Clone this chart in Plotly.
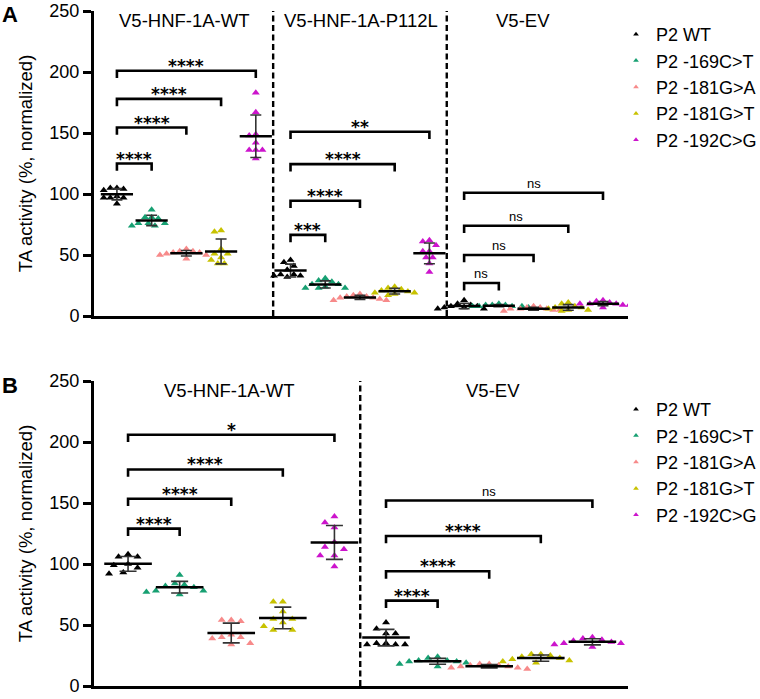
import plotly.graph_objects as go
import numpy as np

FONT = "Arial, 'Liberation Sans', sans-serif"
STAR_FONT = "'DejaVu Sans', sans-serif"

# ---------------- data ----------------
variants = ["P2 WT", "P2 -169C>T", "P2 -181G>A", "P2 -181G>T", "P2 -192C>G"]
colors = ["#000000", "#17A072", "#F78A8A", "#C8C200", "#CC14CC"]

a_groups = ["V5-HNF-1A-WT", "V5-HNF-1A-P112L", "V5-EV"]
a_wt = [[105, 103, 105, 104, 97, 97, 98, 97, 92],
        [87, 81, 81, 80, 76, 76, 76, 74, 74],
        [55, 53, 53, 52, 52, 51, 50, 50, 47],
        [70, 69, 55, 51, 51, 48, 46, 43, 43],
        [183, 167, 149, 148, 142, 136, 136, 136, 129]]
a_p112l = [[46, 44, 41, 38, 34, 34, 33, 33, 32],
           [31, 29, 28, 26, 26, 24, 23, 23, 23],
           [18, 17, 16, 16, 15, 15, 14, 13, 13],
           [24, 23, 22, 21, 20, 19, 19, 18, 17],
           [62, 61, 58, 53, 53, 48, 48, 43, 36]]
a_ev = [[13, 10, 9, 8, 8, 7, 7, 6, 6],
        [10, 9, 9, 9, 8, 8, 8, 8, 7],
        [8, 7, 7, 6, 6, 6, 5, 5, 4],
        [11, 10, 8, 7, 7, 6, 5, 5, 4],
        [13, 12, 11, 10, 10, 10, 9, 9, 7]]
a_sig = [["****", "****", "****", "****"],
         ["***", "****", "****", "**"],
         ["ns", "ns", "ns", "ns"]]
a_brk = [[125, 154.5, 178, 201],
         [66.5, 94.5, 124.5, 151],
         [27, 50, 74, 101]]

b_groups = ["V5-HNF-1A-WT", "V5-EV"]
b_wt = [[108, 106, 106, 100, 99, 97, 93, 92],
        [91, 84, 83, 82, 81, 78, 78, 77, 75],
        [54, 54, 53, 42, 40, 40, 39, 35, 34],
        [69, 69, 61, 55, 55, 52, 49, 46, 46],
        [139, 134, 130, 118, 114, 112, 107, 107, 98]]
b_ev = [[52, 47, 43, 43, 35, 35, 34, 34, 34],
        [24, 23, 21, 21, 20, 20, 19, 18, 16],
        [18, 18, 17, 17, 16, 16, 15, 15, 14],
        [26, 26, 25, 24, 23, 22, 21, 20, 19],
        [40, 39, 38, 37, 36, 35, 35, 34, 32]]
b_sig = [["****", "****", "****", "*"],
         ["****", "****", "****", "ns"]]
b_brk = [[129, 153.5, 177.5, 206],
         [70, 94, 123, 152]]

y_ticks = [0, 50, 100, 150, 200, 250]
y_title = "TA activity (%, normalized)"

# ---------------- helpers ----------------
W, H = 760, 699
M_L, M_R, M_T, M_B = 94, 132, 11, 13
plot_w = W - M_L - M_R
plot_h = H - M_T - M_B
panel_h = 305
dom_a = [1 - panel_h / plot_h, 1.0]
dom_b = [0.0, panel_h / plot_h]

panels = [
    dict(key="a", groups=a_groups, data=[a_wt, a_p112l, a_ev], sig=a_sig, brk=a_brk,
         xr=[-0.66, 14.72], xa="x", ya="y", legend="legend",
         title_x=[1.96, 7.03, 11.7], dot=6.6, meanw=23, capw=5.5),
    dict(key="b", groups=b_groups, data=[b_wt, b_ev], sig=b_sig, brk=b_brk,
         xr=[-0.66, 9.69], xa="x2", ya="y2", legend="legend2",
         title_x=[1.96, 7.07], dot=9.5, meanw=34, capw=8.5),
]


def swarm(vals, d, px_x, px_y):
    placed = []
    offs = [0.0] * len(vals)
    order = sorted(range(len(vals)), key=lambda i: -vals[i])
    for i in order:
        yp = vals[i] * px_y
        k = 0
        while True:
            cands = [0.0] if k == 0 else [-k * d / 2, k * d / 2]
            ok = None
            for c in cands:
                if all((c - xo) ** 2 + (yp - yo) ** 2 >= d * d for xo, yo in placed):
                    ok = c
                    break
            if ok is not None:
                placed.append((ok, yp))
                offs[i] = ok / px_x
                break
            k += 1
    return offs


fig = go.Figure()
annotations = []
shapes = []

for p in panels:
    ng = len(p["groups"])
    dom = dom_a if p["key"] == "a" else dom_b
    px_x = plot_w / (p["xr"][1] - p["xr"][0])
    px_y = (dom[1] - dom[0]) * plot_h / 250.0
    # points
    for g in range(ng):
        for v in range(len(variants)):
            vals = p["data"][g][v]
            pos = g * len(variants) + v
            offs = swarm(vals, p["dot"], px_x, px_y)
            fig.add_trace(go.Scatter(
                x=[pos + o for o in offs], y=vals, mode="markers",
                marker=dict(symbol="triangle-up", size=7, color=colors[v], line=dict(width=0)),
                xaxis=p["xa"], yaxis=p["ya"], showlegend=False, hoverinfo="skip"))
    # mean + SD
    for g in range(ng):
        for v in range(len(variants)):
            vals = np.array(p["data"][g][v], dtype=float)
            pos = g * len(variants) + v
            fig.add_trace(go.Scatter(
                x=[pos], y=[vals.mean()], mode="markers",
                marker=dict(symbol="line-ew", size=p["meanw"], color="black",
                            line=dict(width=2.5, color="black")),
                error_y=dict(type="data", array=[vals.std(ddof=1)], color="#333333",
                             thickness=1.6, width=p["capw"]),
                xaxis=p["xa"], yaxis=p["ya"], showlegend=False, hoverinfo="skip"))
    # brackets
    for g in range(ng):
        base = g * len(variants)
        for j, (lvl, lab) in enumerate(zip(p["brk"][g], p["sig"][g])):
            x1, x2 = base, base + j + 1
            fig.add_trace(go.Scatter(
                x=[x1, x1, x2, x2], y=[lvl - 6, lvl, lvl, lvl - 6], mode="lines",
                line=dict(color="black", width=2.6),
                xaxis=p["xa"], yaxis=p["ya"], showlegend=False, hoverinfo="skip"))
            if lab == "ns":
                annotations.append(dict(x=(x1 + x2) / 2, y=lvl, xref=p["xa"], yref=p["ya"],
                                        text=lab, showarrow=False, yanchor="bottom", yshift=0,
                                        font=dict(family=FONT, size=13, color="black")))
            else:
                annotations.append(dict(x=(x1 + x2) / 2, y=lvl, xref=p["xa"], yref=p["ya"],
                                        text="<b>" + lab + "</b>", showarrow=False,
                                        yanchor="bottom", yshift=-7,
                                        font=dict(family=STAR_FONT, size=17, color="black")))
    # group titles
    for g in range(ng):
        annotations.append(dict(x=p["title_x"][g], y=242, xref=p["xa"], yref=p["ya"],
                                text=p["groups"][g], showarrow=False,
                                font=dict(family=FONT, size=18.5, color="black")))
    # dashed separators
    for g in range(1, ng):
        shapes.append(dict(type="line", xref=p["xa"], yref=p["ya"],
                           x0=g * len(variants) - 0.5, x1=g * len(variants) - 0.5, y0=0, y1=250,
                           line=dict(color="black", width=2.4, dash="6px,3.5px")))
    # legend entries
    for v in range(len(variants)):
        fig.add_trace(go.Scatter(
            x=[None], y=[None], mode="markers", name=variants[v],
            marker=dict(symbol="triangle-up", size=5, color=colors[v]),
            xaxis=p["xa"], yaxis=p["ya"], legend=p["legend"], showlegend=True))


def py(px):
    """window pixel row -> paper y"""
    return (H - M_B - px) / plot_h


annotations.append(dict(x=(0 - M_L) / plot_w, y=py(0), xref="paper", yref="paper",
                        text="<b>A</b>", showarrow=False, xanchor="left", yanchor="top",
                        font=dict(family=FONT, size=22, color="black")))
annotations.append(dict(x=(0 - M_L) / plot_w, y=py(371), xref="paper", yref="paper",
                        text="<b>B</b>", showarrow=False, xanchor="left", yanchor="top",
                        font=dict(family=FONT, size=22, color="black")))

xax = dict(showline=True, linewidth=3, linecolor="black", showticklabels=False, ticks="",
           showgrid=False, zeroline=False, fixedrange=True, automargin=False)
yax = dict(showline=True, linewidth=3, linecolor="black", ticks="outside", ticklen=8,
           tickwidth=3, tickcolor="black", tickvals=y_ticks, range=[0, 250],
           showgrid=False, zeroline=False, automargin=False, fixedrange=True,
           tickfont=dict(family=FONT, size=18, color="black"),
           title=dict(text=y_title, font=dict(family=FONT, size=18.5, color="black"), standoff=12))

leg = dict(font=dict(family=FONT, size=18, color="black"), bgcolor="rgba(0,0,0,0)",
           xanchor="left", yanchor="top", itemwidth=30, tracegroupgap=0)

fig.update_layout(
    width=W, height=H, paper_bgcolor="white", plot_bgcolor="white",
    margin=dict(l=M_L, r=M_R, t=M_T, b=M_B, autoexpand=False),
    xaxis=dict(xax, domain=[0, 1], range=panels[0]["xr"], anchor="y"),
    yaxis=dict(yax, domain=dom_a, anchor="x"),
    xaxis2=dict(xax, domain=[0, 1], range=panels[1]["xr"], anchor="y2"),
    yaxis2=dict(yax, domain=dom_b, anchor="x2"),
    legend=dict(leg, x=(616 - M_L) / plot_w, y=py(16)),
    legend2=dict(leg, x=(616 - M_L) / plot_w, y=py(391)),
    annotations=annotations, shapes=shapes, showlegend=True,
)

fig.write_html("out.html", config={"displayModeBar": False, "staticPlot": True},
               post_script="document.body.style.margin='0';")
